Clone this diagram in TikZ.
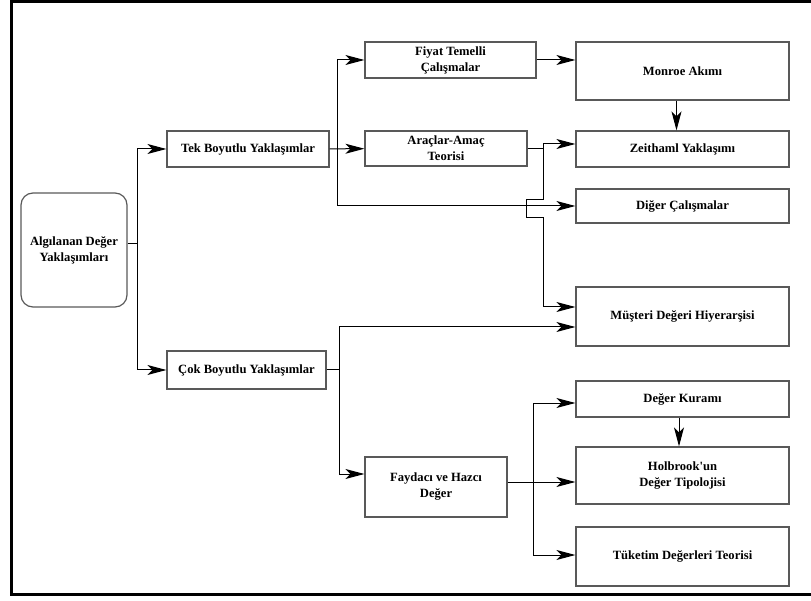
\documentclass[tikz,border=0pt]{standalone}
\usepackage{fontspec}
\setmainfont{Liberation Serif}
\usetikzlibrary{arrows.meta}

\begin{document}
\begin{tikzpicture}[x=1pt, y=-1pt,
    box/.style={draw=black!65, line width=1.2pt, inner sep=0pt, align=center,
        font=\fontsize{12.6}{16}\selectfont\bfseries},
    arr/.style={-{Stealth[length=19pt, width=10pt, inset=5pt]}, line width=1pt},
    lin/.style={line width=1pt}]
    \useasboundingbox (0,0) rectangle (811,601);
    % outer frame, right side cut off
    \draw[line width=3pt] (811,1.5) -- (11.5,1.5) -- (11.5,594.7) -- (811,594.7);

    \node[box, rounded corners=12pt, minimum width=106pt, minimum height=114pt] (alg) at (74,250) {Algılanan Değer\\Yaklaşımları};
    \node[box, minimum width=162pt, minimum height=36pt] (tek) at (248,149) {Tek Boyutlu Yaklaşımlar};
    \node[box, minimum width=159pt, minimum height=38pt] (cok) at (246.5,370) {Çok Boyutlu Yaklaşımlar};

    \node[box, minimum width=171pt, minimum height=36pt] (fiyat) at (450.5,60) {Fiyat Temelli\\Çalışmalar};
    \node[box, minimum width=162pt, minimum height=35pt] (arac) at (446,148.5) {Araçlar-Amaç\\Teorisi};
    \node[box, minimum width=142pt, minimum height=60pt] (fay) at (436,487) {Faydacı ve Hazcı\\Değer};

    \node[box, minimum width=213pt, minimum height=58pt] (monroe) at (682.5,71) {Monroe Akımı};
    \node[box, minimum width=213pt, minimum height=36pt] (zeit) at (682.5,149) {Zeithaml Yaklaşımı};
    \node[box, minimum width=213pt, minimum height=34pt] (diger) at (682.5,206) {Diğer Çalışmalar};
    \node[box, minimum width=213pt, minimum height=59pt] (mus) at (682.5,316.5) {Müşteri Değeri Hiyerarşisi};
    \node[box, minimum width=213pt, minimum height=36pt] (kur) at (682.5,399) {Değer Kuramı};
    \node[box, minimum width=213pt, minimum height=57pt] (hol) at (682.5,475.5) {Holbrook\textquotesingle un\\Değer Tipolojisi};
    \node[box, minimum width=213pt, minimum height=59pt] (tuk) at (682.5,556.5) {Tüketim Değerleri Teorisi};

    \coordinate (j1) at (137,0);
    \coordinate (j2) at (337,0);
    \coordinate (j3) at (543,0);
    \coordinate (j4) at (339,0);
    \coordinate (j5) at (533,482);

    % first level
    \draw[lin] ([yshift=6pt]alg.east) -- ([yshift=6pt]alg.east -| j1);
    \draw[arr] (alg -| j1) |- (tek);
    \draw[arr] (alg -| j1) |- (cok);

    % one dimension
    \draw[arr] (tek) -- (arac);
    \draw[arr] (tek -| j2) |- (fiyat);
    \draw[arr] (tek -| j2) |- (diger);
    \draw[arr] (fiyat) -- (fiyat -| monroe.west);
    \draw[arr] ([xshift=-6pt]monroe.south) -- ([xshift=-6pt]zeit.north);
    \draw[arr] (arac) -- (arac -| j3) |- ([yshift=5pt]zeit.west);
    \draw[arr] (arac -| j3) -- ++(0,51) -- ++(-17,0) -- ++(0,18) -- ++(17,0)
        |- ([yshift=9.5pt]mus.west);

    % multi dimension
    \draw[arr] (cok) -- (cok -| j4) |- ([yshift=-10.5pt]mus.west);
    \draw[arr] (cok -| j4) |- ([yshift=13pt]fay.west);
    \draw[arr] ([yshift=5pt]fay.east) -- ([yshift=5pt]fay.east -| hol.west);
    \draw[arr] (j5) |- ([yshift=-4pt]kur.west);
    \draw[arr] (j5) |- ([yshift=1.5pt]tuk.west);
    \draw[arr] ([xshift=-3.5pt]kur.south) -- ([xshift=-3.5pt]hol.north);
\end{tikzpicture}
\end{document}
